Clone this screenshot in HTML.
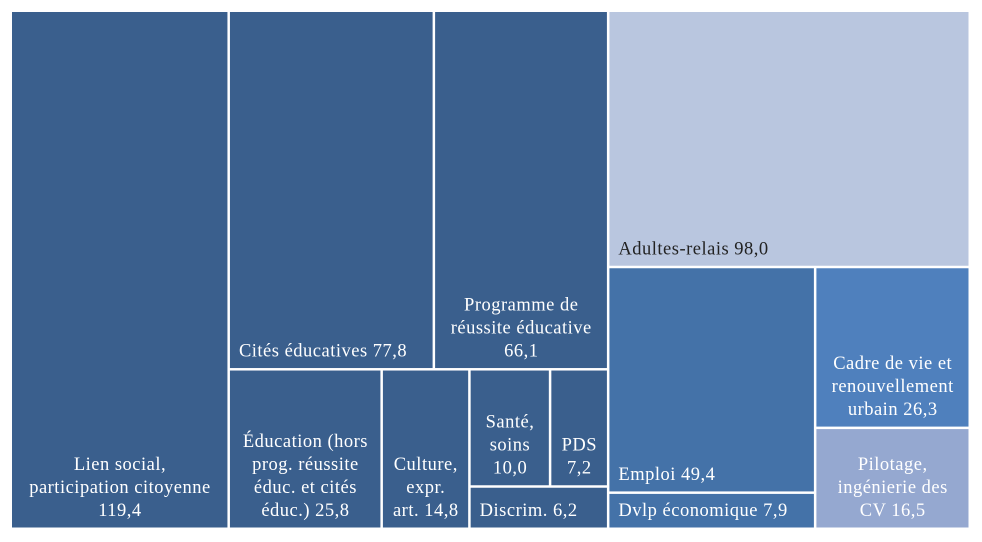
<!DOCTYPE html>
<html><head><meta charset="utf-8"><style>
html,body{margin:0;padding:0;background:#fff;width:982px;height:542px;overflow:hidden}
svg text{font-family:"Liberation Serif",serif;font-size:18.5px;letter-spacing:0.5px}
</style></head><body>
<svg id="chart" width="982" height="542" viewBox="0 0 982 542"></svg>
<script>
const categories = ["Lien social, participation citoyenne","Cités éducatives","Programme de réussite éducative","Adultes-relais","Éducation (hors prog. réussite éduc. et cités éduc.)","Culture, expr. art.","Santé, soins","PDS","Discrim.","Emploi","Dvlp économique","Cadre de vie et renouvellement urbain","Pilotage, ingénierie des CV"];
const values = [119.4,77.8,66.1,98.0,25.8,14.8,10.0,7.2,6.2,49.4,7.9,26.3,16.5];
const labelLines = [
 ["Lien social,","participation citoyenne","119,4"],
 ["Cités éducatives  77,8"],
 ["Programme de","réussite éducative","66,1"],
 ["Adultes-relais 98,0"],
 ["Éducation (hors","prog. réussite","éduc. et cités","éduc.)  25,8"],
 ["Culture,","expr.","art. 14,8"],
 ["Santé,","soins","10,0"],
 ["PDS","7,2"],
 ["Discrim. 6,2"],
 ["Emploi 49,4"],
 ["Dvlp économique 7,9"],
 ["Cadre de vie et","renouvellement","urbain  26,3"],
 ["Pilotage,","ingénierie des","CV 16,5"]
];
const slugs = ["lien-social","cites-educatives","programme-reussite","adultes-relais","education","culture","sante","pds","discrim","emploi","dvlp-economique","cadre-de-vie","pilotage"];
const align = ["c","l","c","l","c","c","c","c","l","l","l","c","c"];
const fills = ["#3a5f8d","#3a5f8d","#3a5f8d","#b9c6df","#3a5f8d","#3a5f8d","#3a5f8d","#3a5f8d","#3a5f8d","#4472a8","#4472a8","#4f80bd","#95a8d0"];
const textColors = ["#fff","#fff","#fff","#222","#fff","#fff","#fff","#fff","#fff","#fff","#fff","#fff","#fff"];
const tree = {d:"h",c:[0,
  {d:"v",c:[{d:"h",c:[1,2]},{d:"h",c:[4,5,{d:"v",c:[{d:"h",c:[6,7]},8]}]}]},
  {d:"v",c:[3,{d:"h",c:[{d:"v",c:[9,10]},{d:"v",c:[11,12]}]}]}
]};
const svg=document.getElementById('chart');
const NS="http://www.w3.org/2000/svg";
function sum(n){return typeof n==="number"?values[n]:n.c.reduce((a,b)=>a+sum(b),0);}
const rects=[];
function layout(n,x,y,w,h){
  if(typeof n==="number"){rects[n]=[x,y,w,h];return;}
  const t=sum(n);let o=0;
  n.c.forEach(ch=>{const f=sum(ch)/t;
    if(n.d==="h"){layout(ch,x+o*w,y,f*w,h);}else{layout(ch,x,y+o*h,w,f*h);}
    o+=f;});
}
layout(tree,11,11,959,518);
rects.forEach((r,i)=>{
  const g=document.createElementNS(NS,'g');
  
  
  const re=document.createElementNS(NS,'rect');
  re.setAttribute('x',r[0]+1);re.setAttribute('y',r[1]+1);
  re.setAttribute('width',Math.max(0,r[2]-2.5));re.setAttribute('height',Math.max(0,r[3]-2.5));
  re.setAttribute('fill',fills[i]);
  g.appendChild(re);
  const tx=document.createElementNS(NS,'text');
  
  
  tx.setAttribute('fill',textColors[i]);
  const lines=labelLines[i];const lh=23;
  const bottom=r[1]+r[3]-13;
  const xx=align[i]==="l"?r[0]+10:r[0]+r[2]/2;
  tx.setAttribute('text-anchor',align[i]==="l"?"start":"middle");
  lines.forEach((l,k)=>{const s=document.createElementNS(NS,'tspan');
    s.setAttribute('x',xx);s.setAttribute('y',bottom-(lines.length-1-k)*lh);
    s.textContent=l;tx.appendChild(s);});
  g.appendChild(tx);
  svg.appendChild(g);
});
</script>
</body></html>
